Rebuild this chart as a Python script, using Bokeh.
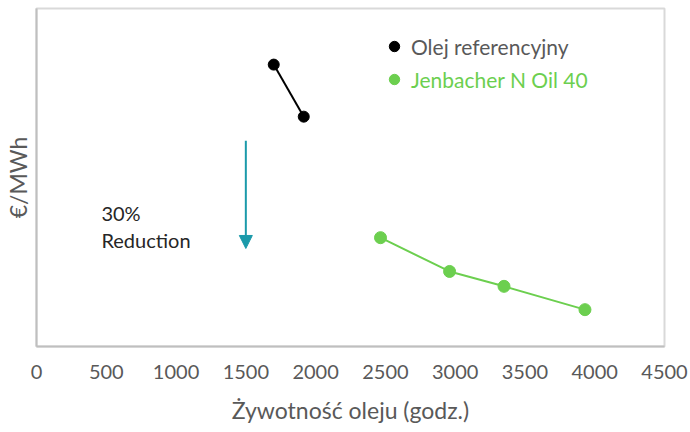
from bokeh.plotting import figure
from bokeh.models import Range1d, FixedTicker, Arrow, NormalHead, Legend, LegendItem, ColumnDataSource
from bokeh.core.properties import value
from bokeh.embed import file_html
from bokeh.resources import INLINE

# data
ref_hours = [1700, 1915]
ref_cost = [83.4, 68.0]
jen_hours = [2465, 2960, 3350, 3930]
jen_cost = [32.2, 22.2, 17.8, 10.9]
x_ticks = [0, 500, 1000, 1500, 2000, 2500, 3000, 3500, 4000, 4500]
ref_label = "Olej referencyjny"
jen_label = "Jenbacher N Oil 40"
arrow_x = 1500
arrow_from = 60.9
arrow_to = 29.0
note_lines = ["30%", "Reduction"]
note_x = 465
note_y = [39.5, 31.5]

FONT = "Lato"
GREEN = "#6ccf4f"
TEAL = "#1b9aaa"
GRAY = "#595959"

p = figure(width=690, height=432, output_backend="svg", toolbar_location=None,
           x_range=Range1d(0, 4500), y_range=Range1d(0, 100),
           min_border_left=35, min_border_right=27, min_border_top=8, min_border_bottom=0)
p.frame_width = 628
p.frame_height = 338

p.grid.visible = False
p.background_fill_color = "white"
p.border_fill_color = "white"
p.outline_line_color = "#d9d9d9"
p.outline_line_width = 2

xa = p.xaxis[0]
xa.ticker = FixedTicker(ticks=x_ticks)
xa.axis_line_color = "#bfbfbf"
xa.axis_line_width = 2
xa.major_tick_line_color = None
xa.minor_tick_line_color = None
xa.major_label_text_font = FONT
xa.major_label_text_font_size = "20px"
xa.major_label_text_color = GRAY
xa.major_label_standoff = 12
xa.axis_label = "Żywotność oleju (godz.)"
xa.axis_label_text_font = FONT
xa.axis_label_text_font_size = "23px"
xa.axis_label_text_font_style = "normal"
xa.axis_label_text_color = GRAY
xa.axis_label_standoff = 14

ya = p.yaxis[0]
ya.ticker = FixedTicker(ticks=[])
ya.axis_line_color = "#bfbfbf"
ya.axis_line_width = 2
ya.major_tick_line_color = None
ya.minor_tick_line_color = None
ya.major_label_text_font_size = "0px"
ya.axis_label = "€/MWh"
ya.axis_label_text_font = FONT
ya.axis_label_text_font_size = "23px"
ya.axis_label_text_font_style = "normal"
ya.axis_label_text_color = GRAY
ya.axis_label_standoff = 5

ref_src = ColumnDataSource(dict(x=ref_hours, y=ref_cost))
jen_src = ColumnDataSource(dict(x=jen_hours, y=jen_cost))

p.line("x", "y", source=ref_src, line_color="black", line_width=2)
r_ref = p.scatter("x", "y", source=ref_src, size=11, fill_color="black", line_color="black")
p.line("x", "y", source=jen_src, line_color=GREEN, line_width=2)
r_jen = p.scatter("x", "y", source=jen_src, size=12, fill_color=GREEN, line_color=GREEN)

p.add_layout(Arrow(end=NormalHead(size=13, fill_color=TEAL, line_color=TEAL),
                   x_start=arrow_x, y_start=arrow_from, x_end=arrow_x, y_end=arrow_to,
                   line_color=TEAL, line_width=2))

p.text(x=[note_x] * len(note_lines), y=note_y, text=note_lines,
       text_font=value(FONT), text_font_size="20px", text_color="#262626",
       text_baseline="middle", text_align="left")

for item_r, label, color, loc in [(r_ref, ref_label, GRAY, (345, 287)),
                                  (r_jen, jen_label, GREEN, (345, 254))]:
    lg = Legend(items=[LegendItem(label=label, renderers=[item_r])], location=loc,
                background_fill_alpha=0, border_line_color=None, padding=0, margin=0,
                glyph_width=26, glyph_height=26, label_standoff=4,
                label_text_font=FONT, label_text_font_size="21px", label_text_color=color)
    p.add_layout(lg)

open("out.html", "w").write(file_html(p, INLINE))
